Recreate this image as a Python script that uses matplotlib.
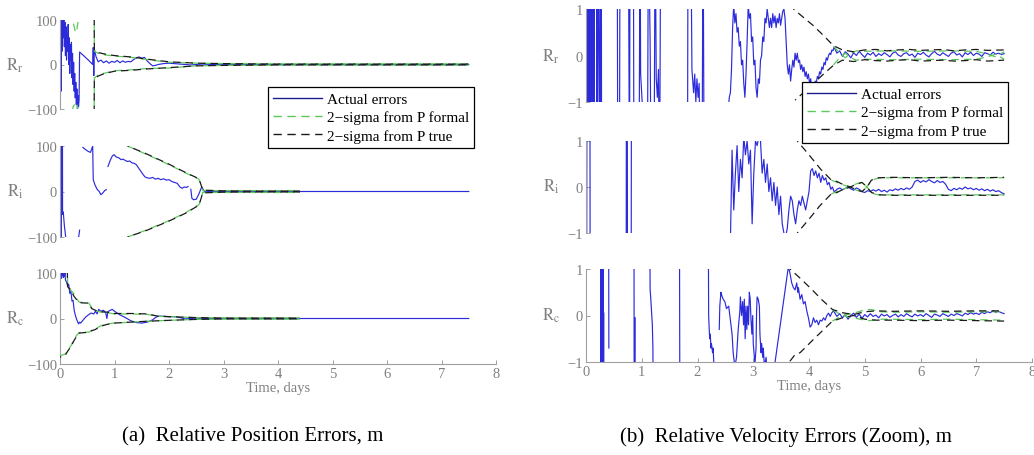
import numpy as np
import matplotlib
matplotlib.use("Agg")
import matplotlib.pyplot as plt
from matplotlib.lines import Line2D

plt.rcParams['font.family'] = ['Liberation Serif', 'DejaVu Serif']
plt.rcParams['mathtext.fontset'] = 'stix'

nan = np.nan

# ---------------- data: (a) relative position errors ----------------
lt_t = [0.00,0.01,0.02,0.03,0.04,0.05,0.06,0.07,0.08,0.09,0.10,0.11,0.12,0.13,0.14,0.15,0.16,0.17,0.18,0.19,
        0.20,0.21,0.22,0.23,0.24,0.25,0.26,0.27,0.28,0.29,0.30,0.31,0.32,0.33,0.34,0.35,0.36,0.45,0.52,0.60,
        0.61,0.62,0.63,0.66,0.70,0.75,0.80,0.85,0.90,0.95,1.00,1.05,1.10,1.15,1.20,1.25,1.30,1.35,1.40,1.45,
        1.50,1.55,1.60,1.65,1.70,1.75,1.80,1.90,2.00,2.10,2.20,2.30,2.40,2.50,2.60,2.80,3.00,3.50,4.00,4.50,
        5.00,5.50,6.00,6.50,7.00,7.50]
lt_v = [-80,120,-60,110,30,130,60,110,40,95,20,85,10,70,30,90,0,60,-20,45,
        10,50,-30,25,-45,5,-60,-20,-75,-40,-90,-55,-100,-70,-95,-80,28,18,10,0,
        38,-25,35,18,6,10,4,8,3,7,5,9,4,8,5,7,6,11,15,17,
        14,16,8,2,-3,-2,0,2,3,2,1,0,-1,0,1,0,0.5,0,0,0,
        0,0,0,0,0,0]
lt_fu_t = [0.0,0.20,0.24,0.28,0.30,0.33,0.36,0.62,0.63,0.70,0.80,1.00,1.30,1.60,2.00,2.50,3.00,4.00,5.00,6.00,7.50]
lt_fu_v = [300,130,95,75,72,95,300,300,30,25,22,19,16,11,5,3,2,1.5,1.5,1.5,1.5]
lt_fl_v = [-300,-130,-95,-88,-85,-100,-300,-300,-30,-24,-20,-14,-12,-9,-8,-3,-2,-1.5,-1.5,-1.5,-1.5]
lt_tu_t = [0.0,0.62,0.63,0.70,0.80,1.00,1.30,1.60,2.00,2.50,3.00,4.00,5.00,6.00,7.50]
lt_tu_v = [300,300,32,27,24,20,17,12,6,3,2,1,1,1,1]
lt_tl_v = [-300,-300,-32,-26,-21,-15,-13,-10,-7,-3,-2,-1,-1,-1,-1]

lm_t = [0.00,0.002,0.025,0.027,0.045,0.047,0.06,0.08,0.10,0.12, nan,
        0.33,0.36, nan,
        0.42,0.47,0.52,0.56,0.60,0.605,0.61,0.64,0.68,0.72,0.75,0.78,0.82,0.85, nan,
        0.88,0.92,0.96,0.99,1.03,1.08,1.12,1.16,1.20,1.24,1.28,1.32,1.36,1.40,1.44,1.48,1.52,1.56,1.60,1.65,
        1.70,1.75,1.80,1.85,1.90,1.95,2.00,2.05,2.10,2.15,2.20,2.24,2.28,2.32,2.35, nan,
        2.40,2.42,2.45,2.50,2.55,2.60,2.65,2.80,3.00,4.00,5.00,6.00,7.00,7.50]
lm_v = [150,-150,-150,150,150,-50,-45,-75,-95,-120, nan,
        -110,-85, nan,
        97,92,88,86,100,60,26,15,5,0,-7,-4,2,4, nan,
        55,68,78,81,76,74,70,71,68,66,67,63,62,59,52,45,38,32,30,29,
        31,27,29,26,28,25,26,22,20,18,10,7,10,9,11, nan,
        5,-15,-18,-17,-5,10,0,0,0,0,0,0,0,0]
lm_s_t = [1.24,1.60,2.00,2.30,2.55,2.62,3.00,3.50,4.00,4.40]
lm_tu_v = [100,82,60,42,28,3,1.5,1,1,1]
lm_tl_v = [-100,-85,-65,-48,-30,-3,-1.5,-1,-1,-1]
lm_fu_v = [100,81,59,41,27,2,2,2,2,2]
lm_fl_v = [-100,-84,-64,-47,-29,-2,-2,-2,-2,-2]

lb_t = [0.00,0.01,0.02,0.03,0.04,0.05,0.06,0.07,0.08,0.09,0.10,0.12,0.14,0.16,0.18,0.20,0.22,0.24,0.26,0.28,
        0.30,0.32,0.34,0.36,0.38,0.42,0.47,0.52,0.57,0.62,0.65,0.68,0.71,0.75,0.80,0.84,0.86,0.88,0.92,0.96,
        1.00,1.05,1.10,1.20,1.30,1.40,1.50,1.60,1.70,1.75,1.80,1.90,2.00,2.10,2.20,2.30,2.40,2.50,2.60,2.80,
        3.00,3.50,4.00,5.00,6.00,7.00,7.50]
lb_v = [92,100,88,100,95,100,90,98,93,100,85,80,72,75,55,60,38,40,18,8,
        0,-6,-12,-8,-10,-4,3,8,12,10,16,10,20,16,18,12,0,15,18,20,
        16,12,8,2,-5,-9,-10,-8,-3,2,5,5,4,4,2,-1,0,1,0,0,
        0,0,0,0,0,0,0]
lb_s_t = [0.0,0.10,0.14,0.20,0.25,0.30,0.35,0.45,0.53,0.58,0.65,0.75,0.86,1.0,1.3,1.6,1.8,2.0,2.5,3.0,3.5,4.0,4.4]
lb_tu_v = [300,300,70,62,50,42,35,34,34,22,18,15,14,11,11,10,5,4,2,1,1,1,1]
lb_tl_v = [-85,-80,-72,-62,-50,-40,-32,-31,-30,-27,-24,-17,-13,-10,-8,-6,-5,-4,-2,-1,-1,-1,-1]
lb_fu_v = [300,300,75,62,55,45,36,35,34,23,17,14,13,10,10,9,5,4,2,1.5,1.5,1.5,1.5]
lb_fl_v = [-82,-78,-70,-60,-48,-38,-31,-30,-30,-26,-23,-16,-12,-10,-8,-6,-5,-4,-2,-1.5,-1.5,-1.5,-1.5]

# ---------------- data: (b) relative velocity errors (zoom) ----------------
rt_t = [0.00,0.005,0.01,0.015,0.02,0.025,0.03,0.035,0.04,0.045,0.05,0.055,0.06,0.065,
        0.09,0.095,0.10,0.105,0.11,0.115,0.12,0.125,0.13,0.135,0.14,0.145,0.15,
        0.19,0.195,0.20,0.205,0.21, 0.25,0.255,0.26,0.265,0.27,0.275,0.28, nan,
        0.56,0.57,0.60,0.61,0.76,0.78,0.79,0.85,0.86,0.95,0.97,0.98,1.10,1.12,1.15,1.17,1.22,1.24,1.26,1.28,
        1.30,1.32,1.34, nan,
        1.82,1.83,1.88,1.90,1.93,1.95,1.97,1.99,2.01,2.03,2.05,2.08,2.10,2.12, nan,
        2.55,2.57,2.59,2.61,2.63,2.65,2.67,2.69,2.71,2.73,2.75,2.77,2.79,2.81,2.83,2.85,2.87,2.89,2.91,2.93,
        2.95,2.97,2.99,3.01,3.03,3.05,3.07,3.09,3.11,3.13,3.15,3.17,3.19,3.21,3.23,3.25,3.27,3.29,3.31,3.33,
        3.35,3.37,3.39,3.41,3.43,3.45,3.47,3.49,3.51,3.53,3.55,3.57,3.59,3.61,3.63,3.65,3.67,3.69,3.71,3.73,
        3.75,3.77,3.79,3.81,3.83,3.85,3.87,3.89,3.91,3.93,3.95,3.97,3.99,4.01,4.03,4.05,4.07,4.09,4.11,4.13,
        4.15,4.17,4.19,4.21,4.23,4.25,4.27,4.29,4.31,4.33,4.35,4.37,4.39,4.41,4.43,4.45,
        4.50,4.55,4.60,4.65,4.70,4.75,4.80,4.85,4.90,4.95,5.00,5.05,5.10,5.15,5.20,5.25,5.30,5.35,5.40,5.45,
        5.50,5.55,5.60,5.65,5.70,5.75,5.80,5.85,5.90,5.95,6.00,6.05,6.10,6.15,6.20,6.25,6.30,6.35,6.40,6.45,
        6.50,6.55,6.60,6.65,6.70,6.75,6.80,6.85,6.90,6.95,7.00,7.05,7.10,7.15,7.20,7.25,7.30,7.35,7.40,7.45,
        7.50]
rt_v = [3,-3,3,-3,3,-3,3,-3,3,-3,3,-3,3,-3,
        3,-3,3,-3,3,-3,3,-3,3,-3,3,-3,3,
        3,-3,3,-3,3, -3,3,-3,3,-3,3,-3, nan,
        3,-3,-3,3,3,-3,3,3,-3,-3,3,-0.4,-3,3,0.3,-3,-3,3,-0.5,-0.9,
        -0.3,-3,3, nan,
        -3,3,3,-0.3,-0.8,-0.4,-1.0,-0.5,-0.9,-0.6,-3,-3,3,-3, nan,
        -1.2,-0.9,-0.8,-0.3,0.6,1.1,0.7,0.9,0.5,0.6,0.2,0.3,-0.2,-0.1,-0.6,-0.9,-0.4,0.3,1.1,0.8,
        0.9,0.3,0.4,-0.2,-0.1,-0.7,-0.9,-0.5,-0.6,-0.1,0.0,0.4,0.3,0.8,0.7,1.0,0.8,0.6,0.8,0.6,
        0.9,0.7,0.85,0.6,0.8,0.7,0.9,0.65,0.8,0.95,1.0,0.8,0.3,-0.2,-0.4,-0.2,-0.55,-0.3,-0.1,-0.25,
        0.05,-0.1,0.05,-0.15,-0.1,-0.3,-0.2,-0.35,-0.25,-0.45,-0.35,-0.5,-0.4,-0.6,-0.5,-0.7,-0.6,-0.8,-0.55,-0.6,
        -0.45,-0.5,-0.35,-0.4,-0.25,-0.3,-0.15,-0.2,-0.05,-0.1,0.0,0.05,0.02,0.12,0.1,0.18,
        0.05,0.10,-0.02,0.08,0.03,-0.05,0.06,0.00,0.09,0.02,-0.04,0.05,0.01,0.07,-0.02,0.04,0.00,0.06,0.02,-0.03,
        0.05,0.08,0.01,-0.02,0.04,0.06,0.00,0.03,-0.04,0.05,0.02,0.07,0.01,-0.03,0.04,0.09,0.03,0.00,0.06,0.02,
        -0.02,0.05,0.08,0.01,0.04,-0.03,0.06,0.02,0.07,0.00,0.05,0.03,-0.02,0.06,0.04,0.01,0.07,0.03,0.05,0.02,
        0.04]
rt_tu_t = [3.72,3.90,4.08,4.26,4.44,4.6,4.8,5.0,5.2,5.4,5.6,5.8,6.0,6.2,6.4,6.6,6.8,7.0,7.2,7.5]
rt_tu_v = [1.0,0.82,0.64,0.43,0.21,0.12,0.08,0.12,0.13,0.10,0.12,0.13,0.11,0.12,0.13,0.10,0.12,0.13,0.11,0.12]
rt_tl_t = [3.75,3.90,4.08,4.26,4.44,4.6,4.8,5.0,5.2,5.4,5.6,5.8,6.0,6.2,6.4,6.6,6.8,7.0,7.2,7.5]
rt_tl_v = [-0.96,-0.8,-0.6,-0.4,-0.21,-0.10,-0.13,-0.09,-0.11,-0.12,-0.10,-0.09,-0.12,-0.11,-0.10,-0.12,-0.11,-0.09,-0.12,-0.10]
rt_f_t = [4.44,4.55,4.65,4.75,4.85,5.0,5.5,6.0,6.5,7.0,7.2,7.35,7.5]
rt_fu_v = [0.2,0.05,-0.05,0.05,0.1,0.09,0.1,0.09,0.1,0.09,0.03,-0.03,0.08]
rt_fl_v = [-0.2,-0.05,0.05,-0.05,-0.1,-0.08,-0.09,-0.08,-0.09,-0.08,-0.03,0.03,-0.08]

rm_t = [0.00,0.005,0.012,0.017,0.07,0.075,0.72,0.725,0.74,0.745,0.81,0.815, nan,
        2.59,2.62,2.65,2.68,2.71,2.74,2.77,2.80,2.83,2.86,2.89,2.92,2.95,2.98,3.01,3.04,3.07,3.10,3.13,3.16,
        3.19,3.22,3.25,3.28,3.31,3.34,3.37,3.40,3.43,3.46,3.49,3.52,3.55,3.58,3.61,3.64,3.67,3.70,3.73,3.76,
        3.79,3.82,3.85,3.88,3.91,3.94,3.97,4.00,4.03,4.06,4.09,4.12,4.15,4.18,4.21,4.24,4.27,4.30,4.33,4.36,
        4.39,4.42,4.45,4.48,
        4.50,4.55,4.60,4.65,4.70,4.75,4.80,4.85,4.90,4.95,5.00,5.05,5.10,5.15,5.20,5.25,5.30,5.35,5.40,5.45,
        5.50,5.55,5.60,5.65,5.70,5.75,5.80,5.85,5.90,5.95,6.00,6.05,6.10,6.15,6.20,6.25,6.30,6.35,6.40,6.45,
        6.50,6.55,6.60,6.65,6.70,6.75,6.80,6.85,6.90,6.95,7.00,7.05,7.10,7.15,7.20,7.25,7.30,7.35,7.40,7.45,
        7.50]
rm_v = [3,-3,-3,3,3,-3,-3,3,3,-3,-3,3, nan,
        -1.2,0.8,-0.5,0.3,0.9,-0.1,0.6,0.2,1.1,0.7,1.0,0.5,0.8,-0.8,0.3,1.0,0.9,1.1,1.0,0.3,
        0.6,0.1,0.5,-0.1,0.2,-0.3,0.1,-0.4,0.0,-0.6,-0.2,-0.8,-1.0,-1.1,-0.9,-0.5,-0.2,-0.3,-0.6,-0.8,
        -0.5,-0.3,-0.4,-0.2,-0.35,-0.5,-0.3,-0.1,0.35,0.4,0.25,0.35,0.2,0.3,0.1,0.25,0.15,0.2,0.05,0.1,
        -0.05,0.0,-0.1,-0.08,
        -0.05,-0.02,-0.06,-0.03,0.00,-0.04,-0.07,-0.02,-0.05,-0.10,-0.12,-0.08,-0.10,-0.06,-0.09,-0.05,-0.10,-0.07,-0.11,-0.06,
        -0.08,-0.04,-0.07,-0.03,-0.06,-0.02,-0.05,0.00,0.12,0.15,0.10,0.14,0.11,0.16,0.12,0.09,0.14,0.10,0.12,0.06,
        -0.05,-0.08,-0.03,-0.06,-0.02,-0.05,0.00,-0.04,-0.02,-0.06,-0.03,-0.07,-0.04,-0.08,-0.05,-0.09,-0.06,-0.10,-0.08,-0.12,
        -0.15]
rm_s_t = [3.79,4.0,4.2,4.4,4.5,4.6,4.74,4.85,4.95,5.04,5.12,5.25,5.5,6.0,6.5,7.0,7.5]
rm_tu_v = [1.0,0.7,0.4,0.15,0.12,0.06,0.0,0.06,0.1,0.0,0.15,0.2,0.21,0.2,0.21,0.2,0.21]
rm_tl_v = [-1.0,-0.7,-0.4,-0.15,-0.12,-0.06,0.0,-0.06,-0.1,0.0,-0.12,-0.17,-0.18,-0.18,-0.18,-0.18,-0.18]
rm_f_t = [4.4,4.5,4.6,4.74,4.85,4.95,5.04,5.12,5.25,5.5,6.0,6.5,7.0,7.5]
rm_fu_v = [0.15,0.1,0.05,0.0,0.07,0.1,0.0,0.14,0.2,0.2,0.2,0.2,0.2,0.2]
rm_fl_v = [-0.15,-0.1,-0.05,0.0,-0.07,-0.1,0.0,-0.14,-0.17,-0.17,-0.17,-0.17,-0.17,-0.17]

rb_t = [0.26,0.265,0.27,0.275,0.28,0.285,0.29,0.295,0.30,0.305,0.31,0.315,0.32, nan,
        0.405,0.41, nan,
        0.86,0.865,0.88,0.882, nan,
        1.14,1.15,1.16,1.19,1.20,1.21, nan,
        1.675,1.68,1.685, nan,
        2.19,2.20,2.21,2.22,2.23,2.24,2.25,2.27,2.28,2.30, nan,
        2.39,2.40,2.42,2.43,2.46,2.49,2.52,2.56,2.59,2.62,2.64,2.67,2.70,2.73,2.76,2.77,2.79,2.81,2.826,2.84,
        2.855,2.87,2.885,2.90,2.915,2.93,2.945,2.96,2.975,2.99,3.00,3.02,3.03,3.05,3.06,3.07,3.09,3.11,3.12,3.14,
        3.15,3.17,3.18,3.20,3.23,3.25,3.38,3.63,3.66,3.69,3.72,3.75,3.78,3.80,3.81,3.84,3.87,3.90,3.93,3.96,
        3.99,4.02,4.05,4.08,4.11,4.14,4.17,4.20,4.23,4.26,4.29,4.32,4.35,4.38,4.41,4.44,
        4.50,4.55,4.60,4.65,4.70,4.75,4.80,4.85,4.90,4.95,5.00,5.05,5.10,5.15,5.20,5.25,5.30,5.35,5.40,5.45,
        5.50,5.55,5.60,5.65,5.70,5.75,5.80,5.85,5.90,5.95,6.00,6.05,6.10,6.15,6.20,6.25,6.30,6.35,6.40,6.45,
        6.50,6.55,6.60,6.65,6.70,6.75,6.80,6.85,6.90,6.95,7.00,7.05,7.10,7.15,7.20,7.25,7.30,7.35,7.40,7.45,
        7.50]
rb_v = [3,-3,3,-3,3,-3,3,-3,3,-3,3,-3,0.05, nan,
        3,-0.7, nan,
        3,-3,-3,-0.05, nan,
        3,0.56,0.4,-0.2,-0.7,-3, nan,
        3,-0.5,-3, nan,
        3,0.0,-0.3,-0.5,-0.4,-0.7,-0.6,-0.8,-0.7,-1.2, nan,
        -0.3,0.2,0.5,0.45,0.35,0.3,0.15,0.2,-0.1,-0.4,-0.8,-1.1,-0.9,-0.3,0.1,0.4,0.0,0.3,-0.2,0.35,
        -0.5,0.2,-0.3,0.2,-0.2,0.5,0.35,-0.1,-0.4,0.0,-0.6,-0.9,-1.05,-0.7,0.1,0.4,0.35,0.2,-0.4,-0.8,
        -0.6,-0.9,-0.7,-1.1,-0.9,-1.2,-1.1,1.05,0.9,0.7,0.6,0.55,0.7,0.5,0.6,0.35,0.45,0.25,0.3,0.1,
        -0.05,-0.25,-0.2,-0.05,-0.15,-0.1,-0.2,-0.1,-0.12,-0.05,-0.1,0.0,0.05,-0.02,0.06,0.1,
        -0.02,0.04,-0.05,0.02,-0.08,0.00,0.05,-0.04,0.03,-0.06,0.02,-0.03,0.04,-0.02,0.01,-0.05,0.03,-0.01,0.02,-0.04,
        0.00,0.03,-0.03,0.02,-0.02,0.04,0.00,-0.03,0.03,-0.01,0.02,-0.02,0.04,0.00,-0.04,0.03,0.01,-0.02,0.04,0.01,
        -0.02,0.03,0.00,0.04,0.02,-0.01,0.05,0.02,0.06,0.03,0.05,0.02,0.07,0.04,0.08,0.06,0.10,0.07,0.09,0.06,
        0.04]
rb_tu_t = [3.66,3.87,4.05,4.23,4.42,4.6,4.8,5.0,5.2,5.5,6.0,6.5,7.0,7.5]
rb_tu_v = [1.0,0.77,0.56,0.34,0.13,0.06,0.02,0.08,0.1,0.09,0.1,0.09,0.1,0.1]
rb_tl_t = [3.65,3.66,3.75,3.84,4.05,4.23,4.42,4.6,4.8,5.0,5.2,5.5,6.0,6.5,7.0,7.5]
rb_tl_v = [-3,-0.98,-0.84,-0.80,-0.55,-0.34,-0.12,-0.05,0.0,-0.08,-0.1,-0.1,-0.11,-0.1,-0.11,-0.12]
rb_f_t = [4.42,4.6,4.8,5.0,5.1,5.3,5.5,6.0,6.5,7.0,7.5]
rb_fu_v = [0.12,0.0,0.05,0.12,0.13,0.08,0.07,0.08,0.07,0.08,0.08]
rb_fl_v = [-0.12,0.0,-0.05,-0.1,-0.11,-0.08,-0.08,-0.09,-0.08,-0.09,-0.1]

x_ticks = [0, 1, 2, 3, 4, 5, 6, 7, 8]
legend_labels = ['Actual errors', '2\u2212sigma from P formal', '2\u2212sigma from P true']
row_labels = [r'$\mathrm{R}_\mathrm{r}$', r'$\mathrm{R}_\mathrm{i}$', r'$\mathrm{R}_\mathrm{c}$']

# ---------------- styles ----------------
BLUE = '#2b2bdc'
GREEN = '#5cc85c'
BLACK = '#1a1a1a'
GRAY = '#808080'
DASH = (6, 4)

W, H = 1034, 456
fig = plt.figure(figsize=(W / 100, H / 100), dpi=100)


def px_rect(x0, y0, x1, y1):
    return [x0 / W, 1 - y1 / H, (x1 - x0) / W, (y1 - y0) / H]


def setup(ax, ylim, yticks, bottom):
    ax.set_xlim(0, 8)
    ax.set_ylim(*ylim)
    ax.set_yticks(yticks)
    ax.set_yticklabels([('\u2212' + str(abs(v))) if v < 0 else str(v) for v in yticks])
    for s in ['top', 'right']:
        ax.spines[s].set_visible(False)
    ax.spines['left'].set_color('#a0a0a0')
    ax.spines['left'].set_linewidth(0.8)
    ax.tick_params(axis='both', direction='in', length=3, width=0.7, colors='#a0a0a0',
                   labelcolor=GRAY, labelsize=10.5, pad=2)
    if bottom:
        ax.spines['bottom'].set_color('#a0a0a0')
        ax.spines['bottom'].set_linewidth(0.8)
        ax.set_xticks(x_ticks)
        ax.set_xlabel('Time, days', color=GRAY, fontsize=10.5, labelpad=1)
    else:
        ax.spines['bottom'].set_visible(False)
        ax.set_xticks([])
    ax.patch.set_alpha(0)


def draw(ax, bt, bv, sig):
    ax.plot(bt, bv, color=BLUE, lw=0.85, zorder=2)
    for (t, v, c, off) in sig:
        ax.plot(t, v, color=c, lw=0.9, linestyle=(off, DASH), zorder=3)


axL = [fig.add_axes(px_rect(60, 21, 496, 110)),
       fig.add_axes(px_rect(60, 147, 496, 238)),
       fig.add_axes(px_rect(60, 274, 496, 365))]
axR = [fig.add_axes(px_rect(586, 10, 1032, 103)),
       fig.add_axes(px_rect(586, 142, 1032, 234)),
       fig.add_axes(px_rect(586, 270, 1032, 363))]

draw(axL[0], lt_t, lt_v, [(lt_fu_t, lt_fu_v, GREEN, 0), (lt_fu_t, lt_fl_v, GREEN, 0),
                          (lt_tu_t, lt_tu_v, BLACK, 5), (lt_tu_t, lt_tl_v, BLACK, 5)])
draw(axL[1], lm_t, lm_v, [(lm_s_t, lm_fu_v, GREEN, 0), (lm_s_t, lm_fl_v, GREEN, 0),
                          (lm_s_t, lm_tu_v, BLACK, 5), (lm_s_t, lm_tl_v, BLACK, 5)])
draw(axL[2], lb_t, lb_v, [(lb_s_t, lb_fu_v, GREEN, 0), (lb_s_t, lb_fl_v, GREEN, 0),
                          (lb_s_t, lb_tu_v, BLACK, 5), (lb_s_t, lb_tl_v, BLACK, 5)])
draw(axR[0], rt_t, rt_v, [(rt_f_t, rt_fu_v, GREEN, 0), (rt_f_t, rt_fl_v, GREEN, 0),
                          (rt_tu_t, rt_tu_v, BLACK, 5), (rt_tl_t, rt_tl_v, BLACK, 5)])
draw(axR[1], rm_t, rm_v, [(rm_f_t, rm_fu_v, GREEN, 0), (rm_f_t, rm_fl_v, GREEN, 0),
                          (rm_s_t, rm_tu_v, BLACK, 5), (rm_s_t, rm_tl_v, BLACK, 5)])
draw(axR[2], rb_t, rb_v, [(rb_f_t, rb_fu_v, GREEN, 0), (rb_f_t, rb_fl_v, GREEN, 0),
                          (rb_tu_t, rb_tu_v, BLACK, 5), (rb_tl_t, rb_tl_v, BLACK, 5)])

for i, ax in enumerate(axL):
    setup(ax, (-100, 100), [-100, 0, 100], i == 2)
for i, ax in enumerate(axR):
    setup(ax, (-1, 1), [-1, 0, 1], i == 2)

for y, lab in zip([66, 192, 319], row_labels):
    fig.text(15 / W, 1 - y / H, lab, color=GRAY, fontsize=12, ha='center', va='center')
for y, lab in zip([57, 187, 316], row_labels):
    fig.text(551 / W, 1 - y / H, lab, color=GRAY, fontsize=12, ha='center', va='center')

handles = [Line2D([], [], color='#1c1c8c', lw=1.0),
           Line2D([], [], color=GREEN, lw=1.0, linestyle=(0, DASH)),
           Line2D([], [], color=BLACK, lw=1.0, linestyle=(0, DASH))]
for (x, y) in [(268, 88), (802, 83)]:
    leg = fig.legend(handles, legend_labels, loc='upper left',
                     bbox_to_anchor=(x / W, 1 - y / H), fontsize=11,
                     frameon=True, fancybox=False, edgecolor='black', framealpha=1,
                     handlelength=3.2, handletextpad=0.3, labelspacing=0.3,
                     borderpad=0.35, borderaxespad=0)
    leg.get_frame().set_linewidth(0.9)

fig.text(253 / W, 1 - 437 / H, '(a)  Relative Position Errors, m', fontsize=15,
         ha='center', va='center', color='black')
fig.text(786 / W, 1 - 437 / H, '(b)  Relative Velocity Errors (Zoom), m', fontsize=15,
         ha='center', va='center', color='black')

fig.savefig('out.png', dpi=100)
